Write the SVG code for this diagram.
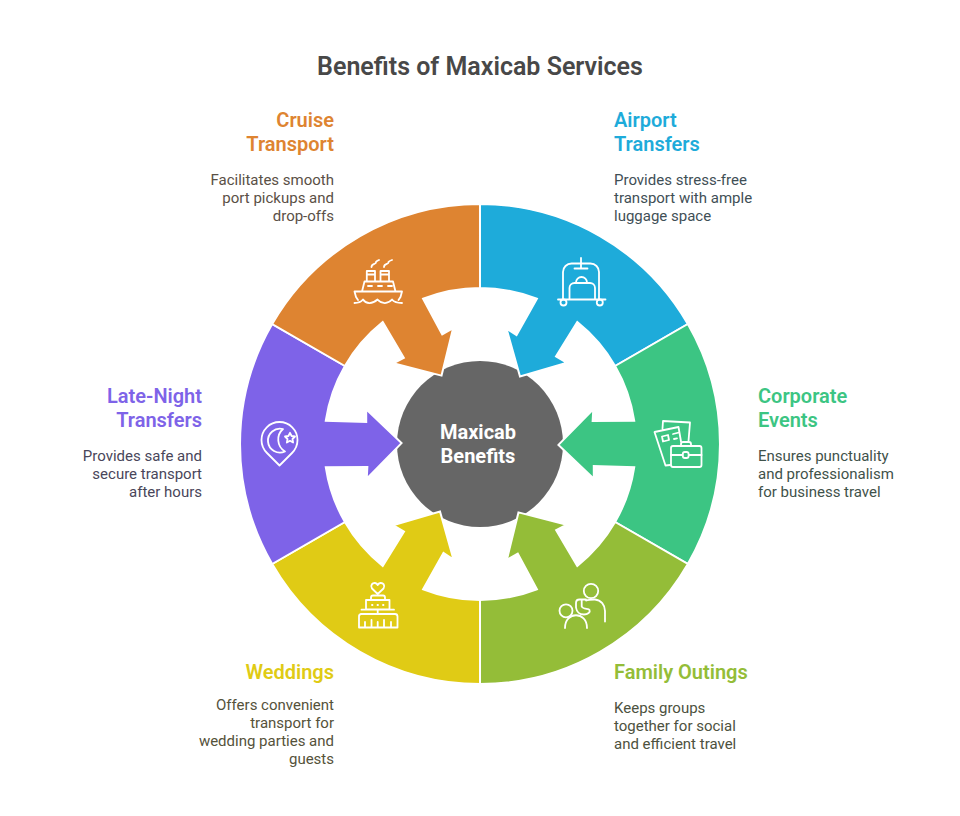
<svg xmlns="http://www.w3.org/2000/svg" width="960" height="816" viewBox="0 0 960 816">
<style>
text{font-family:Roboto,"Liberation Sans",sans-serif}
.t{font-size:25px;font-weight:600;fill:#484848}
.h{font-size:20px;font-weight:600}
.d{font-size:15px}
.r{text-anchor:end}
.c{font-size:20px;font-weight:700;fill:#fff;text-anchor:middle}
.seg{stroke:#fff;stroke-width:2;stroke-linejoin:miter}
.i{fill:none;stroke:#fff;stroke-width:1.8;stroke-linecap:round;stroke-linejoin:round}
</style>
<defs>
<path id="s" class="seg" d="M480 204A240 240 0 0 1 687.800 324L615.100 366A156 156 0 0 0 577.300 322.100L556 356.500L567 362.800L520 376.500L506.500 328.500L516.500 335L536.900 298.800A156 156 0 0 0 480 288Z"/>
</defs>
<rect width="960" height="816" fill="#fff"/>
<text class="t" x="480" y="75" text-anchor="middle">Benefits of Maxicab Services</text>
<g id="center"><circle cx="480" cy="444" r="83" fill="#666"/></g>
<g id="connectors">
<use href="#s" fill="#1eabda"/>
<use href="#s" fill="#3cc583" transform="rotate(60 480 444)"/>
<use href="#s" fill="#94bd38" transform="rotate(120 480 444)"/>
<use href="#s" fill="#e0cb15" transform="rotate(180 480 444)"/>
<use href="#s" fill="#7e63e8" transform="rotate(240 480 444)"/>
<use href="#s" fill="#de8431" transform="rotate(300 480 444)"/>
</g>
<g id="center-label"><text class="c" x="478" y="439">Maxicab</text><text class="c" x="478" y="463">Benefits</text></g>
<g id="airport">
<g class="i">
<path d="M581 258V268M574.500 268.500H587.500M563 299V272A8.500 8.500 0 0 1 571.500 263.500H590.500A8.500 8.500 0 0 1 599 272V299"/>
<path d="M558 299.500H605.500M569.500 299V288A5 5 0 0 1 574.500 283H590A5 5 0 0 1 595 288V299M576 283V282.500A5.500 5.500 0 0 1 587 282.500V283"/>
<circle cx="563.500" cy="302.500" r="3"/><circle cx="599.800" cy="302.500" r="3"/>
</g>
<text class="h" x="614" y="127" fill="#1eabda">Airport</text><text class="h" x="614" y="151" fill="#1eabda">Transfers</text>
<text class="d" fill="#3f4f56"><tspan x="614" y="185">Provides stress-free</tspan><tspan x="614" y="203">transport with ample</tspan><tspan x="614" y="221">luggage space</tspan></text>
</g>
<g id="corporate">
<g class="i">
<rect x="671" y="446" width="30.500" height="21" rx="2"/>
<path d="M681 446V444A2 2 0 0 1 683 442H689A2 2 0 0 1 691 444V446M671 455H682.500M689 455H701.500"/>
<rect x="682.800" y="452" width="5.800" height="6" rx="2"/>
<path d="M662.500 428.500L663 421L690 422.500L688.500 441M670 465L665.500 465.500L654.500 432L678.500 427L681 441.500"/>
<path d="M662 436.500L668 435L669 440L663 441.500ZM673 434L679 432.500M674 439L677 438.300"/>
</g>
<text class="h" x="758" y="403" fill="#3cc583">Corporate</text><text class="h" x="758" y="427" fill="#3cc583">Events</text>
<text class="d" fill="#3f524a"><tspan x="758" y="461">Ensures punctuality</tspan><tspan x="758" y="479">and professionalism</tspan><tspan x="758" y="497">for business travel</tspan></text>
</g>
<g id="family">
<g class="i">
<circle cx="591" cy="591" r="7.200"/><circle cx="566" cy="610.800" r="6.500"/>
<path d="M586 600.500C590 600 592 599.300 595 599.500C601 600 605 605 605 611V621.500M565 628C565 611 587 611 587 628"/>
<path d="M586 599.500H579.500C577.300 599.500 576 601 576 603V607.500C576.500 611.500 579.500 614.500 584 614.500C588 614.500 590.500 612 589.500 610C588.500 608.500 583 609.500 581.700 606.500V600"/>
</g>
<text class="h" x="614" y="679" fill="#94bd38">Family Outings</text>
<text class="d" fill="#4d5240"><tspan x="614" y="713">Keeps groups</tspan><tspan x="614" y="731">together for social</tspan><tspan x="614" y="749">and efficient travel</tspan></text>
</g>
<g id="weddings">
<g class="i">
<path d="M377.700 594L372 588.500C370 585 372.500 582.800 375 583C376.500 583.200 377.200 584 377.700 585C378.200 584 379 583.200 380.500 583C383 582.800 385.500 585 383.500 588.500Z"/>
<path d="M371 600V597.500A2 2 0 0 1 373 595.500H383A2 2 0 0 1 385 597.500V600M366 600H389.500V609.500H366ZM361.500 609.700H394M377.700 609.700V614"/>
<path d="M361 614H395A2.500 2.500 0 0 1 397.500 616.500V627.500H359V616.500A2.500 2.500 0 0 1 361 614ZM365 627V622M371.500 627V620M377.700 627V622M384 627V620M391 627V622"/>
<path d="M372 605H372.500M377.500 605H378M383 605H383.500"/>
</g>
<text class="h r" x="334" y="679" fill="#e0cb15">Weddings</text>
<text class="d r" fill="#55523a"><tspan x="334" y="710">Offers convenient</tspan><tspan x="334" y="728">transport for</tspan><tspan x="334" y="746">wedding parties and</tspan><tspan x="334" y="764">guests</tspan></text>
</g>
<g id="late-night">
<g class="i">
<path d="M279.500 465.500L267 453C262 448 261.500 444 261.500 440A18 18 0 0 1 297.500 440C297.500 444 297 448 292 453Z"/>
<path d="M283 429A12 12 0 1 0 285 451.500A14 14 0 0 1 283 429Z"/>
<path d="M290 432.800L291.600 436L295 436.500L292.500 439L293.100 442.500L290 440.800L286.900 442.500L287.500 439L285 436.500L288.400 436Z"/>
</g>
<text class="h r" x="202" y="403" fill="#7e63e8">Late-Night</text><text class="h r" x="202" y="427" fill="#7e63e8">Transfers</text>
<text class="d r" fill="#49465a"><tspan x="202" y="461">Provides safe and</tspan><tspan x="202" y="479">secure transport</tspan><tspan x="202" y="497">after hours</tspan></text>
</g>
<g id="cruise">
<g class="i">
<path d="M354.500 291.500H402L400.500 297L398.500 300M354.500 291.500L356 297L358 300M362 291.500L364.500 281.500H393L395.500 291.500M366.800 281.500V271H375V281.500M380.500 281.500V271H389V281.500M367 274.500H375M380.500 274.500H389M368 286H372M378 286H382M388 286H392"/>
<path d="M354.500 303C358 303 361 302 363 299.500C366 304 372 304.500 377.500 299.500C382 304.500 388 304 392 299.500C394 302 398 303 402 303"/>
<path d="M371.500 267C371.500 263 376.500 264.500 376 262C376.500 261 378 260.500 379 260M384 267C384 263 389 264.500 388.500 262C389 261 390.500 260.500 392 260"/>
</g>
<text class="h r" x="334" y="127" fill="#de8431">Cruise</text><text class="h r" x="334" y="151" fill="#de8431">Transport</text>
<text class="d r" fill="#5a5046"><tspan x="334" y="185">Facilitates smooth</tspan><tspan x="334" y="203">port pickups and</tspan><tspan x="334" y="221">drop-offs</tspan></text>
</g>
</svg>
